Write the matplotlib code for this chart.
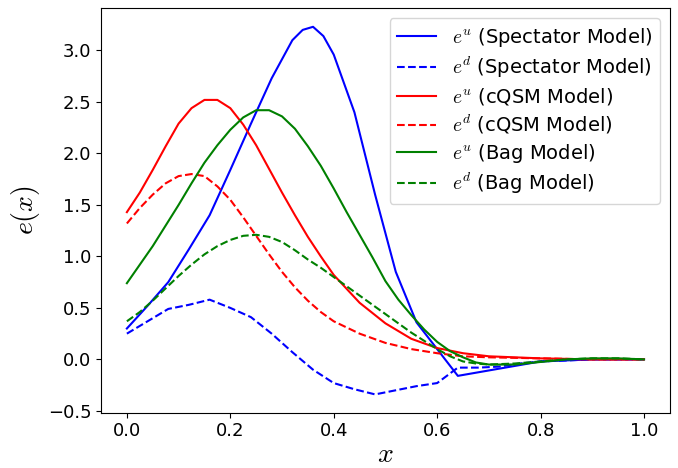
import numpy as np
import matplotlib
matplotlib.use("Agg")
import matplotlib.pyplot as plt

plt.rcParams['mathtext.fontset'] = 'cm'

# Spectator model (coarse grid)
x_spec_u = [0.0, 0.04, 0.08, 0.12, 0.16, 0.20, 0.24, 0.28, 0.32, 0.34, 0.36, 0.38,
            0.40, 0.44, 0.48, 0.52, 0.56, 0.60, 0.64, 0.72, 0.80, 0.90, 1.0]
e_u_spec = [0.30, 0.52, 0.75, 1.07, 1.40, 1.84, 2.29, 2.73, 3.10, 3.20, 3.23, 3.14,
            2.96, 2.40, 1.60, 0.85, 0.36, 0.10, -0.16, -0.09, -0.02, 0.0, 0.0]

x_spec_d = [0.0, 0.04, 0.08, 0.12, 0.16, 0.20, 0.24, 0.28, 0.32, 0.36, 0.40, 0.44,
            0.48, 0.52, 0.56, 0.60, 0.64, 0.68, 0.72, 0.76, 0.80, 0.90, 1.0]
e_d_spec = [0.25, 0.37, 0.49, 0.53, 0.58, 0.50, 0.41, 0.25, 0.07, -0.10, -0.23, -0.29,
            -0.34, -0.30, -0.26, -0.23, -0.08, -0.08, -0.07, -0.04, -0.02, 0.0, 0.0]

# cQSM model
x_cqsm = [0.0, 0.025, 0.05, 0.075, 0.1, 0.125, 0.15, 0.175, 0.2, 0.225, 0.25, 0.275,
          0.3, 0.325, 0.35, 0.375, 0.4, 0.45, 0.5, 0.55, 0.6, 0.65, 0.7, 0.8, 0.9, 1.0]
e_u_cqsm = [1.43, 1.62, 1.84, 2.07, 2.29, 2.44, 2.52, 2.52, 2.44, 2.28, 2.08, 1.85,
            1.62, 1.40, 1.19, 1.00, 0.82, 0.55, 0.35, 0.20, 0.11, 0.06, 0.03, 0.01, 0.0, 0.0]
e_d_cqsm = [1.32, 1.47, 1.60, 1.71, 1.78, 1.80, 1.78, 1.68, 1.55, 1.38, 1.20, 1.02,
            0.85, 0.70, 0.57, 0.46, 0.37, 0.25, 0.16, 0.10, 0.06, 0.03, 0.02, 0.01, 0.0, 0.0]

# Bag model
x_bag = [0.0, 0.025, 0.05, 0.075, 0.1, 0.125, 0.15, 0.175, 0.2, 0.225, 0.25, 0.275,
         0.3, 0.325, 0.35, 0.375, 0.4, 0.425, 0.45, 0.475, 0.5, 0.525, 0.55, 0.575,
         0.6, 0.625, 0.65, 0.675, 0.7, 0.75, 0.8, 0.85, 0.9, 0.95, 1.0]
e_u_bag = [0.74, 0.92, 1.10, 1.30, 1.50, 1.71, 1.91, 2.08, 2.23, 2.35, 2.42, 2.42,
           2.36, 2.24, 2.07, 1.88, 1.66, 1.43, 1.21, 0.99, 0.76, 0.58, 0.43, 0.29,
           0.17, 0.08, 0.02, -0.03, -0.05, -0.05, -0.025, 0.0, 0.01, 0.01, 0.0]
e_d_bag = [0.37, 0.46, 0.57, 0.69, 0.81, 0.92, 1.02, 1.10, 1.16, 1.20, 1.21, 1.19,
           1.14, 1.06, 0.97, 0.89, 0.80, 0.71, 0.62, 0.53, 0.44, 0.35, 0.26, 0.18,
           0.10, 0.03, -0.02, -0.04, -0.05, -0.04, -0.02, 0.0, 0.01, 0.01, 0.0]

fig = plt.figure(figsize=(6.78, 4.68), dpi=100)
ax = fig.add_axes([0.149, 0.118, 0.839, 0.864])

ax.plot(x_spec_u, e_u_spec, color='blue', linestyle='-', label=r'$e^u$ (Spectator Model)')
ax.plot(x_spec_d, e_d_spec, color='blue', linestyle='--', label=r'$e^d$ (Spectator Model)')
ax.plot(x_cqsm, e_u_cqsm, color='red', linestyle='-', label=r'$e^u$ (cQSM Model)')
ax.plot(x_cqsm, e_d_cqsm, color='red', linestyle='--', label=r'$e^d$ (cQSM Model)')
ax.plot(x_bag, e_u_bag, color='green', linestyle='-', label=r'$e^u$ (Bag Model)')
ax.plot(x_bag, e_d_bag, color='green', linestyle='--', label=r'$e^d$ (Bag Model)')

ax.set_xlabel(r'$x$', fontsize=20, labelpad=0)
ax.set_ylabel(r'$e(x)$', fontsize=20)
ax.tick_params(labelsize=13)
ax.legend(fontsize=14, loc='upper right', labelspacing=0.3)

fig.savefig("out.png", dpi=100)
